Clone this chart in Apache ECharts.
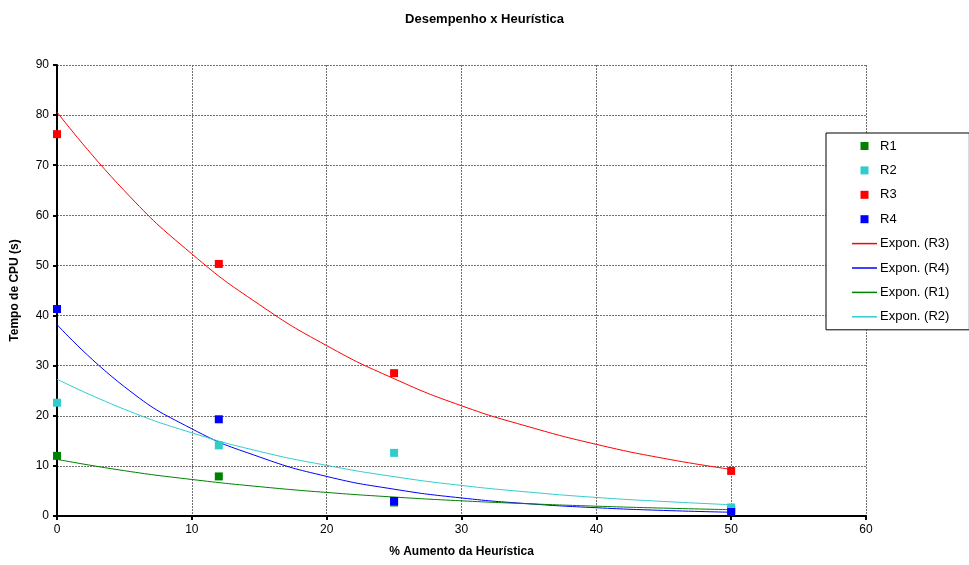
<!DOCTYPE html>
<html><head><meta charset="utf-8">
<script src="https://cdn.jsdelivr.net/npm/echarts@6/dist/echarts.min.js"></script>
<style>html,body{margin:0;padding:0;background:#fff}#c{width:969px;height:565px}</style>
</head><body><div id="c"></div>
<script>
var xPoints = [0, 12, 25, 50];
var r1 = [12.0, 7.9, 2.7, 1.2];
var r2 = [22.6, 14.1, 12.6, 1.7];
var r3 = [76.2, 50.3, 28.5, 9.0];
var r4 = [41.3, 19.3, 3.0, 0.8];
// trendline values
var trendX = [0, 5, 10, 15, 20, 25, 30, 35, 40, 45, 50];
var trendR3 = [80.6, 64.9, 52.3, 42.2, 34.0, 27.4, 22.0, 17.8, 14.3, 11.5, 9.3];
var trendR4 = [38.2, 25.8, 17.4, 11.8, 7.9, 5.35, 3.6, 2.44, 1.65, 1.11, 0.75];
var trendR1 = [11.3, 9.04, 7.29, 5.86, 4.7, 3.78, 3.03, 2.44, 1.96, 1.57, 1.26];
var trendR2 = [27.3, 21.3, 16.6, 12.9, 10.1, 7.85, 6.1, 4.77, 3.7, 2.9, 2.25];
var colors = {R1:'#008000', R2:'#33CCCC', R3:'#FF0000', R4:'#0000FF'};

function pts(xs, ys){ return xs.map(function(x,i){return [x, ys[i]];}); }
var F = 'Arial, "Liberation Sans", sans-serif';
var SQ = 'path://M0,0H7V7H0Z';
var LN = 'path://M0,0H25V1.5H0Z';

var chart = echarts.init(document.getElementById('c'));
function scatter(name, ys){
  return {name:name, type:'scatter', data:pts(xPoints, ys), symbol:'rect', symbolSize:8,
    itemStyle:{color:colors[name], opacity:1}, z:3};
}
function trend(name, key, ys){
  return {name:name, type:'line', data:pts(trendX, ys), smooth:true, showSymbol:false, symbol:'none',
    lineStyle:{color:colors[key], width:1}, itemStyle:{color:colors[key]}, z:2};
}
chart.setOption({
  animation:false,
  backgroundColor:'#fff',
  title:{text:'Desempenho x Heurística', left:'center', top:8,
    textStyle:{fontFamily:F, fontSize:13, fontWeight:'bold', color:'#000'}},
  grid:{left:57, right:103, top:65, bottom:49},
  legend:{orient:'vertical', left:826, top:133, width:150,
    padding:[6,20,6,26], itemWidth:25, itemHeight:8, itemGap:10.4, symbolKeepAspect:true,
    borderColor:'#000', borderWidth:1, backgroundColor:'#fff',
    textStyle:{fontFamily:F, fontSize:13, color:'#000', lineHeight:14, padding:[0,0,0,-2]},
    data:[
      {name:'R1', icon:SQ},{name:'R2', icon:SQ},{name:'R3', icon:SQ},{name:'R4', icon:SQ},
      {name:'Expon. (R3)', icon:LN},{name:'Expon. (R4)', icon:LN},{name:'Expon. (R1)', icon:LN},{name:'Expon. (R2)', icon:LN}
    ]},
  xAxis:{type:'value', min:0, max:60, interval:10,
    name:'% Aumento da Heurística', nameLocation:'middle', nameGap:30,
    nameTextStyle:{fontFamily:F, fontSize:12, fontWeight:'bold', color:'#000'},
    axisLine:{show:true, onZero:false, lineStyle:{color:'#000', width:2}},
    axisTick:{show:true, length:4, lineStyle:{color:'#000', width:2}},
    axisLabel:{fontFamily:F, fontSize:12, color:'#000', margin:8},
    splitLine:{show:true, lineStyle:{color:'#707070', type:[2,1], width:1}}},
  yAxis:{type:'value', min:0, max:90, interval:10,
    name:'Tempo de CPU (s)', nameLocation:'middle', nameGap:36, nameRotate:90,
    nameTextStyle:{fontFamily:F, fontSize:12, fontWeight:'bold', color:'#000'},
    axisLine:{show:true, onZero:false, lineStyle:{color:'#000', width:2}},
    axisTick:{show:true, length:4, lineStyle:{color:'#000', width:2}},
    axisLabel:{fontFamily:F, fontSize:12, color:'#000', margin:8},
    splitLine:{show:true, lineStyle:{color:'#707070', type:[2,1], width:1}}},
  series:[
    scatter('R1', r1), scatter('R2', r2), scatter('R3', r3), scatter('R4', r4),
    trend('Expon. (R3)', 'R3', trendR3), trend('Expon. (R4)', 'R4', trendR4),
    trend('Expon. (R1)', 'R1', trendR1), trend('Expon. (R2)', 'R2', trendR2)
  ]
});
</script></body></html>
